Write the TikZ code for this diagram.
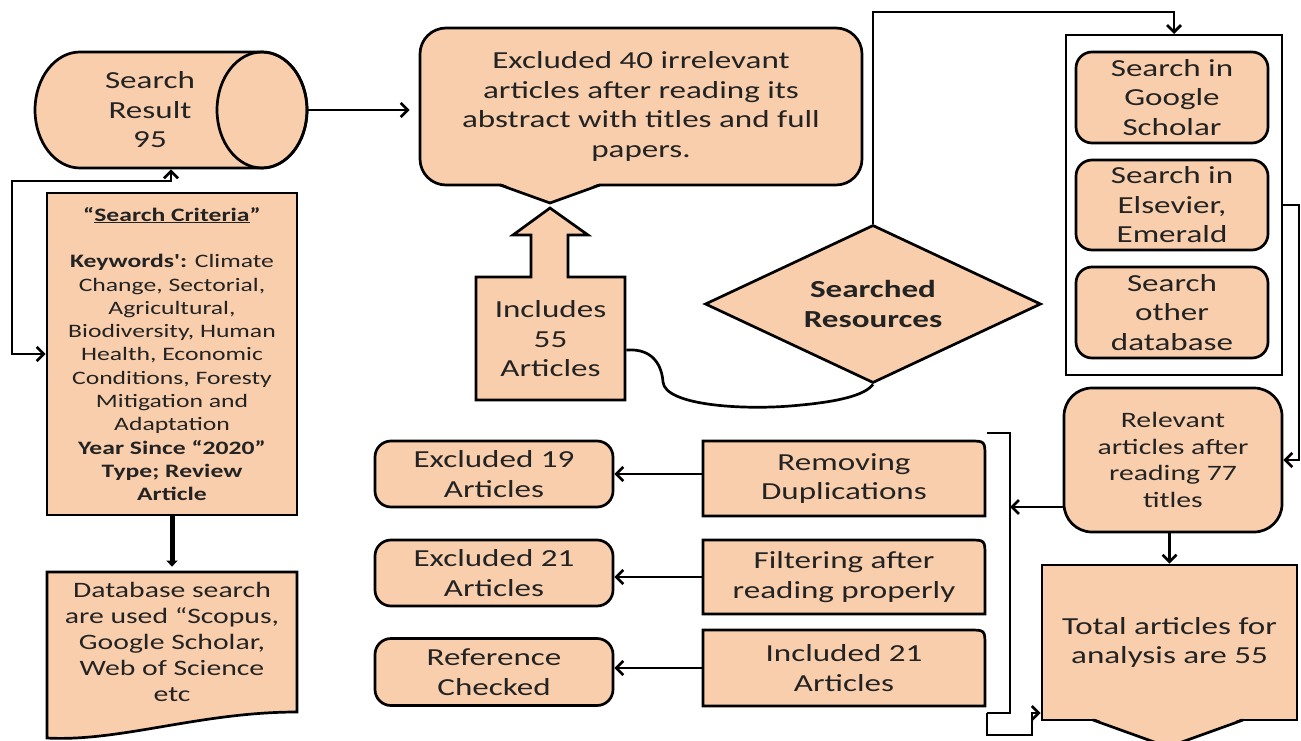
\documentclass[tikz,border=0pt]{standalone}
\usepackage{fontspec}
\setmainfont{Carlito}[FakeStretch=1.35, Ligatures=TeXOff]
\usetikzlibrary{arrows.meta,shapes.geometric}
\definecolor{peach}{RGB}{249,206,172}
\definecolor{ink}{RGB}{35,35,35}
\newcommand{\cornerbox}[4]{%
  \path[draw, fill=peach] (#1,#4) -- (#1,#2) -- ({#3-16},#2) .. controls (#3,#2) .. (#3,{#2+16}) -- (#3,#4) -- cycle;}
\begin{document}
\begin{tikzpicture}[x=1pt,y=-1pt,
  line width=2.7pt,
  >={Straight Barb[length=7pt,width=14pt]},
  shp/.style={draw=black, fill=peach, text=ink, align=center, inner sep=0pt, font=\fontsize{24.5}{29.5}\selectfont},
  rbox/.style={shp, rectangle, rounded corners=16pt},
  sqbox/.style={shp, rectangle},
  txt/.style={text=ink, align=center, inner sep=0pt, font=\fontsize{24.5}{29.5}\selectfont},
  ghost/.style={rectangle, inner sep=0pt},
]
\useasboundingbox (0,0) rectangle (1301,741);

% --- cylinder: Search Result 95
\path[draw, fill=peach] (80,52) -- (262,52)
  arc[start angle=90, end angle=-90, x radius=45pt, y radius=58pt]
  -- (80,168)
  arc[start angle=-90, end angle=-270, x radius=45pt, y radius=58pt] -- cycle;
\draw (262,110) ellipse [x radius=45pt, y radius=58pt];
\node[ghost, minimum width=272pt, minimum height=116pt] (cyl) at (171,110) {};
\node[txt] (srtext) at (150,110) {Search\\Result\\95};

% --- search criteria
\node[sqbox, minimum width=250pt, minimum height=322pt, font=\fontsize{19}{23.3}\selectfont] (crit) at (172,354)
 {\textbf{“\underline{Search Criteria}”}\\[23.3pt]
  \textbf{Keywords':} Climate\\Change, Sectorial,\\Agricultural,\\Biodiversity, Human\\Health, Economic\\Conditions, Foresty\\Mitigation and\\Adaptation\\
  \textbf{Year Since “2020”}\\\textbf{Type; Review}\\\textbf{Article}};

% --- database document
\path[draw, fill=peach] (47,572) -- (297,572) -- (297,712)
  .. controls (200,712) and (120,742) .. (47,738) -- cycle;
\node[txt, font=\fontsize{22}{26}\selectfont, minimum width=250pt, minimum height=140pt] (db) at (172,642)
 {Database search\\are used “Scopus,\\Google Scholar,\\Web of Science\\etc};

% --- callout excluded 40
\node[rbox, rounded corners=26pt, minimum width=442pt, minimum height=157pt] (ex40) at (641,106.5)
 {Excluded 40 irrelevant\\articles after reading its\\abstract with titles and full\\papers.};
\fill[peach] (500,183) -- (550,203) -- (600,183) -- cycle;
\draw (500,185) -- (550,203) -- (600,185);

% --- includes 55 (up arrow box)
\path[draw, fill=peach] (476,277) -- (531,277) -- (531,235) -- (513,235) -- (550,208) -- (588,235)
  -- (568,235) -- (568,277) -- (625,277) -- (625,400) -- (476,400) -- cycle;
\node[txt, minimum width=149pt, minimum height=123pt] (inc) at (550.5,339) {Includes\\55\\Articles};

% --- diamond
\node[shp, diamond, aspect=2.13, minimum width=336pt, minimum height=158pt,
      font=\bfseries\fontsize{24.5}{30}\selectfont] (dia) at (873,304) {Searched\\Resources};

\draw ([yshift=-11pt]inc.east) .. controls (655,348) and (662,368) .. (663,382)
  .. controls (665,405) and (740,410) .. (790,406)
  .. controls (840,402) and (865,395) .. (dia.south);

% --- search resources group
\node[ghost, draw, line width=2pt, minimum width=216pt, minimum height=340pt] (outer) at (1174,205) {};
\node[rbox, minimum width=192pt, minimum height=91pt] (gs) at (1172,97.5) {Search in\\Google\\Scholar};
\node[rbox, minimum width=192pt, minimum height=90pt] (el) at (1172,205) {Search in\\Elsevier,\\Emerald};
\node[rbox, minimum width=192pt, minimum height=91pt] (od) at (1172,312.5) {Search\\other\\database};

\coordinate (up) at (873,12);
\draw[->] (dia.north) -- (up) -| (outer.north);

% --- relevant
\node[rbox, rounded corners=28pt, minimum width=218pt, minimum height=144pt,
      font=\fontsize{22}{26.5}\selectfont] (rel) at (1173,460) {Relevant\\articles after\\reading 77\\titles};
\draw[->] (outer.east) -- ++(16,0) |- (rel.east);

% --- total
\node[sqbox, minimum width=255pt, minimum height=155pt] (tot) at (1169.5,642.5) {Total articles for\\analysis are 55};
\fill[peach] (1093,718) -- (1168,747) -- (1243,718) -- cycle;
\draw (1093,720) -- (1168,747) -- (1243,720);
\draw[->] (tot.north |- rel.south) -- (tot.north);

% --- left column boxes
\node[rbox, minimum width=238pt, minimum height=66pt] (ex19) at (494,474) {Excluded 19\\Articles};
\node[rbox, minimum width=238pt, minimum height=66pt] (ex21) at (494,573) {Excluded 21\\Articles};
\node[rbox, minimum width=238pt, minimum height=67pt] (refc) at (494,672) {Reference\\Checked};

% --- right column boxes
\cornerbox{703}{441}{985}{516}
\node[txt, minimum width=282pt, minimum height=75pt] (rem) at (844,478.5) {Removing\\Duplications};
\cornerbox{703}{540}{985}{614}
\node[txt, minimum width=282pt, minimum height=74pt] (filt) at (844,577) {Filtering after\\reading properly};
\cornerbox{703}{630}{985}{706}
\node[txt, minimum width=282pt, minimum height=76pt] (inc21) at (844,668) {Included 21\\Articles};

\draw[->] (rem.west |- ex19.east) -- (ex19.east);
\draw[->] (filt.west) -- (filt.west -| ex21.east);
\draw[->] (inc21.west) -- (inc21.west -| refc.east);

% --- bracket
\coordinate (bk1) at (987,433);
\coordinate (bk2) at (1010,433);
\coordinate (bk3) at (1010,713);
\coordinate (bk4) at (987,713);
\coordinate (bk5) at (987,735);
\coordinate (bk6) at (1032,735);
\coordinate (bk7) at (1032,713);
\draw (bk1) -- (bk2) -- (bk3) -- (bk4);
\coordinate (brk) at (1010,507);
\draw[->] (rel.west |- brk) -- (brk);
\draw[->] (bk4) -- (bk5) -- (bk6) -- (bk7) -- (bk7 -| tot.west);

% --- cylinder connections
\draw[->] (cyl.east) -- ([xshift=-9pt]cyl.east -| ex40.west);
\coordinate (loopL) at (12,181);
\draw[<->] (cyl.south) |- (loopL) |- (crit.west);
\draw[-{Triangle[length=6pt,width=11pt]}, line width=5pt] (crit.south) -- ([yshift=4pt]db.north);
\end{tikzpicture}
\end{document}
